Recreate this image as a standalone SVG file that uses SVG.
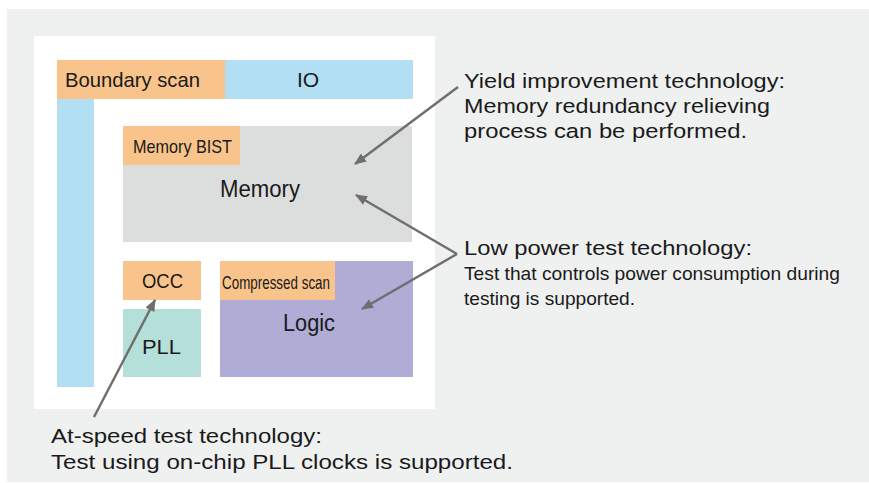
<svg xmlns="http://www.w3.org/2000/svg" width="869" height="483" viewBox="0 0 869 483">
<defs>
<style>
.t{font-family:"Liberation Sans",Arial,sans-serif;fill:#1a1a1a;}
.conn{stroke:#6f6f6f;stroke-width:2.5;fill:none;}
</style>
<marker id="ah" viewBox="0 0 12 10" refX="11" refY="5" markerWidth="12" markerHeight="10" markerUnits="userSpaceOnUse" orient="auto">
<path d="M0,0 L12,5 L0,10 z" fill="#6f6f6f"/>
</marker>
</defs>
<rect x="7" y="9" width="862" height="473" fill="#eff0f0"/>
<rect x="34" y="36" width="401" height="373" fill="#ffffff"/>
<g id="boundary-scan">
<rect x="57" y="60" width="168" height="39" fill="#f9c48b"/>
<text class="t" x="65" y="87" font-size="21" textLength="135" lengthAdjust="spacingAndGlyphs">Boundary scan</text>
</g>
<g id="io">
<rect x="225" y="60" width="188" height="39" fill="#b3dff4"/>
<rect x="57" y="99" width="37" height="288" fill="#b3dff4"/>
<text class="t" x="308" y="87" font-size="21" text-anchor="middle">IO</text>
</g>
<g id="memory">
<rect x="123" y="126" width="289" height="116" fill="#dcdddd"/>
<text class="t" x="220" y="197" font-size="23" textLength="80" lengthAdjust="spacingAndGlyphs">Memory</text>
</g>
<g id="memory-bist">
<rect x="123" y="126" width="117" height="39" fill="#f9c48b"/>
<text class="t" x="133" y="153" font-size="19" textLength="99" lengthAdjust="spacingAndGlyphs">Memory BIST</text>
</g>
<g id="occ">
<rect x="123" y="261" width="78" height="39" fill="#f9c48b"/>
<text class="t" x="142" y="288" font-size="21" textLength="41" lengthAdjust="spacingAndGlyphs">OCC</text>
</g>
<g id="pll">
<rect x="123" y="309" width="78" height="68" fill="#b5dfd9"/>
<text class="t" x="142" y="354" font-size="21" textLength="39" lengthAdjust="spacingAndGlyphs">PLL</text>
</g>
<g id="logic">
<rect x="220" y="261" width="193" height="116" fill="#afacd6"/>
<text class="t" x="283" y="331" font-size="23" textLength="52" lengthAdjust="spacingAndGlyphs">Logic</text>
</g>
<g id="compressed-scan">
<rect x="220" y="261" width="115" height="39" fill="#f9c48b"/>
<text class="t" x="222" y="289" font-size="19" textLength="108" lengthAdjust="spacingAndGlyphs">Compressed scan</text>
</g>
<g id="connectors">
<path class="conn" d="M458,87 L355,164" marker-end="url(#ah)"/>
<path class="conn" d="M457,254 L356,195" marker-end="url(#ah)"/>
<path class="conn" d="M457,254 L362,309" marker-end="url(#ah)"/>
<path class="conn" d="M94,417 L155,300" marker-end="url(#ah)"/>
</g>
<g id="note-yield">
<text class="t" x="464" y="88" font-size="20.5" textLength="321" lengthAdjust="spacingAndGlyphs">Yield improvement technology:</text>
<text class="t" x="464" y="113" font-size="20.5" textLength="306" lengthAdjust="spacingAndGlyphs">Memory redundancy relieving</text>
<text class="t" x="464" y="138" font-size="20.5" textLength="283" lengthAdjust="spacingAndGlyphs">process can be performed.</text>
</g>
<g id="note-lowpower">
<text class="t" x="464" y="255" font-size="20.5" textLength="288" lengthAdjust="spacingAndGlyphs">Low power test technology:</text>
<text class="t" x="464" y="280" font-size="19" textLength="376" lengthAdjust="spacingAndGlyphs">Test that controls power consumption during</text>
<text class="t" x="464" y="305" font-size="19" textLength="171" lengthAdjust="spacingAndGlyphs">testing is supported.</text>
</g>
<g id="note-atspeed">
<text class="t" x="51" y="443" font-size="20.5" textLength="271" lengthAdjust="spacingAndGlyphs">At-speed test technology:</text>
<text class="t" x="51" y="469" font-size="20.5" textLength="462" lengthAdjust="spacingAndGlyphs">Test using on-chip PLL clocks is supported.</text>
</g>
</svg>
